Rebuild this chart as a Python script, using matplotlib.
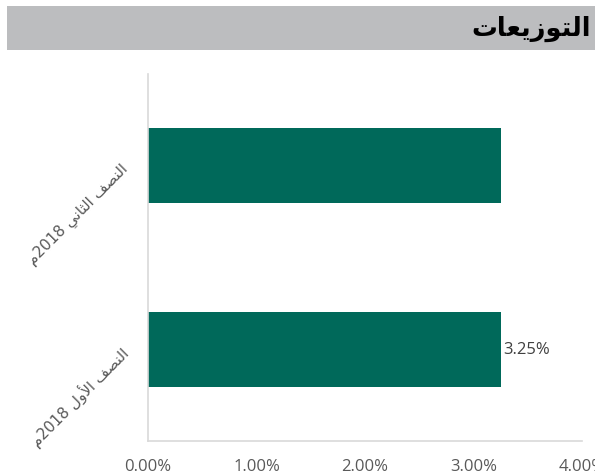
import matplotlib
matplotlib.use('Agg')
import matplotlib.pyplot as plt
from matplotlib.patches import Rectangle

title = 'التوزيعات'
categories = ['النصف الأول 2018م', 'النصف الثاني 2018م']
values = [3.25, 3.25]
shown_labels = ['3.25%', '']
xticks = [0, 1, 2, 3, 4]

# simple arabic shaping: (isolated, final, initial, medial)
forms = {
    'ا': ('\uFE8D', '\uFE8E', None, None),
    'أ': ('\uFE83', '\uFE84', None, None),
    'ل': ('\uFEDD', '\uFEDE', '\uFEDF', '\uFEE0'),
    'ت': ('\uFE95', '\uFE96', '\uFE97', '\uFE98'),
    'ث': ('\uFE99', '\uFE9A', '\uFE9B', '\uFE9C'),
    'ن': ('\uFEE5', '\uFEE6', '\uFEE7', '\uFEE8'),
    'ص': ('\uFEB9', '\uFEBA', '\uFEBB', '\uFEBC'),
    'ف': ('\uFED1', '\uFED2', '\uFED3', '\uFED4'),
    'و': ('\uFEED', '\uFEEE', None, None),
    'ز': ('\uFEAF', '\uFEB0', None, None),
    'ي': ('\uFEF1', '\uFEF2', '\uFEF3', '\uFEF4'),
    'ع': ('\uFEC9', '\uFECA', '\uFECB', '\uFECC'),
    'م': ('\uFEE1', '\uFEE2', '\uFEE3', '\uFEE4'),
}
lamalef = {'ا': ('\uFEFB', '\uFEFC'), 'أ': ('\uFEF7', '\uFEF8')}


def shape(s):
    out = []
    i = 0
    n = len(s)
    while i < n:
        c = s[i]
        if c not in forms:
            out.append(c)
            i += 1
            continue
        prev = s[i - 1] if i > 0 else ''
        join_prev = prev in forms and forms[prev][2] is not None and (i == 0 or out[-1] != ' ')
        if c == 'ل' and i + 1 < n and s[i + 1] in lamalef:
            out.append(lamalef[s[i + 1]][1 if join_prev else 0])
            i += 2
            continue
        nxt = s[i + 1] if i + 1 < n else ''
        join_next = forms[c][2] is not None and nxt in forms
        iso, fin, ini, med = forms[c]
        if join_prev and join_next:
            out.append(med)
        elif join_prev:
            out.append(fin)
        elif join_next:
            out.append(ini)
        else:
            out.append(iso)
        i += 1
    # visual order: reverse, keep digit runs left to right
    rev = ''.join(out)[::-1]
    res = ''
    run = ''
    for ch in rev:
        if ch.isdigit():
            run += ch
        else:
            res += run[::-1] + ch
            run = ''
    return res + run[::-1]


fig = plt.figure(figsize=(5.95, 4.77), dpi=100)
fig.patches.append(Rectangle((7 / 595, 1 - 51 / 477), 1, 44 / 477, transform=fig.transFigure,
                             facecolor='#bcbdbf', edgecolor='none', zorder=0))
fig.text(591 / 595, 1 - 29 / 477, shape(title), ha='right', va='center', fontsize=18.5,
         fontweight='bold', family='DejaVu Sans', color='black')

ax = fig.add_axes([148 / 595, 35 / 477, 434 / 595, 367 / 477])
pos = list(range(len(categories)))
bars = ax.barh(pos, values, height=0.41, color='#00695a')
for b, lab in zip(bars, shown_labels):
    if lab:
        ax.text(b.get_width() + 0.02, b.get_y() + b.get_height() / 2, lab, ha='left', va='center',
                fontsize=12, color='#404040', family='Open Sans')

ax.set_xlim(0, 4)
ax.set_ylim(-0.5, 1.5)
ax.set_xticks(xticks)
ax.set_xticklabels(['%.2f%%' % v for v in xticks], fontsize=12, color='#595959', family='Open Sans')
ax.set_yticks(pos)
ax.set_yticklabels([shape(c) for c in categories], rotation=45, ha='right', va='center',
                   rotation_mode='anchor', fontsize=11, color='#595959', family='DejaVu Sans')
ax.tick_params(axis='x', length=0, pad=12)
ax.tick_params(axis='y', length=0, pad=16)
for sp in ['top', 'right']:
    ax.spines[sp].set_visible(False)
ax.spines['left'].set_color('#d9d9d9')
ax.spines['bottom'].set_color('#d9d9d9')
ax.spines['left'].set_linewidth(1.2)
ax.spines['bottom'].set_linewidth(1.2)

fig.savefig('out.png', dpi=100)
